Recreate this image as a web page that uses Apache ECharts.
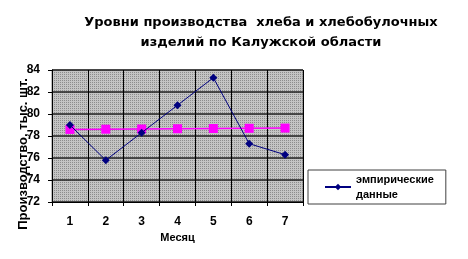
<!DOCTYPE html>
<html>
<head>
<meta charset="utf-8">
<script src="https://cdn.jsdelivr.net/npm/echarts@6/dist/echarts.min.js"></script>
<style>
  html, body { margin: 0; padding: 0; background: #fff; }
  #chart { width: 468px; height: 259px; }
</style>
</head>
<body>
<div id="chart"></div>
<script>
const months = ['1', '2', '3', '4', '5', '6', '7'];
const empirical = [79.0, 75.8, 78.3, 80.8, 83.3, 77.3, 76.3];
const trend = [78.6, 78.62, 78.64, 78.66, 78.68, 78.7, 78.72];

// dotted gray fill like the old excel plot area
function dotPattern() {
  const c = document.createElement('canvas');
  c.width = 2; c.height = 2;
  const ctx = c.getContext('2d');
  ctx.fillStyle = '#c4c4c4';
  ctx.fillRect(0, 0, 2, 2);
  ctx.fillStyle = '#8c8c8c';
  ctx.fillRect(0, 0, 1, 1);
  return c;
}

const chart = echarts.init(document.getElementById('chart'));
const bold = { fontFamily: 'Arial', fontWeight: 'bold', color: '#000' };

chart.setOption({
  animation: false,
  title: {
    text: 'Уровни производства  хлеба и хлебобулочных\nизделий по Калужской области',
    left: 256,
    top: 8,
    textAlign: 'center',
    textStyle: { fontFamily: 'DejaVu Sans', fontWeight: 'bold', color: '#000', fontSize: 13, lineHeight: 20 }
  },
  grid: {
    left: 52, top: 70, width: 251, height: 132,
    outerBoundsMode: 'none',
    containLabel: false,
    show: true,
    backgroundColor: { image: dotPattern(), repeat: 'repeat' },
    borderColor: '#808080', borderWidth: 1
  },
  legend: {
    data: ['эмпирические\nданные'],
    left: 308, top: 170,
    padding: [2, 12, 2, 16],
    itemWidth: 26, itemHeight: 8,
    itemGap: 4,
    backgroundColor: '#fff',
    borderColor: '#404040', borderWidth: 1,
    textStyle: { ...bold, fontSize: 11, lineHeight: 15 }
  },
  xAxis: {
    type: 'category',
    data: months,
    boundaryGap: true,
    name: 'Месяц',
    nameLocation: 'middle',
    nameGap: 30,
    nameMoveOverlap: false,
    nameTextStyle: { ...bold, fontSize: 11 },
    axisLine: { lineStyle: { color: '#000' } },
    axisTick: { show: true, length: 4, lineStyle: { color: '#000' } },
    axisLabel: { ...bold, fontSize: 12, margin: 14 },
    splitLine: { show: true, lineStyle: { color: '#000', width: 1 } }
  },
  yAxis: {
    type: 'value',
    min: 72, max: 84, interval: 2,
    name: 'Производство, тыс. шт.',
    nameLocation: 'middle',
    nameGap: 22,
    nameMoveOverlap: false,
    nameTextStyle: { ...bold, fontSize: 13, padding: [0, 36, 0, 0] },
    axisLine: { show: true, lineStyle: { color: '#000' } },
    axisTick: { show: true, length: 4, lineStyle: { color: '#000' } },
    axisLabel: { ...bold, fontSize: 12, margin: 12 },
    splitLine: { show: true, lineStyle: { color: '#202020', width: 1.5 } }
  },
  series: [
    {
      name: 'эмпирические\nданные',
      type: 'line',
      data: empirical,
      symbol: 'diamond',
      symbolSize: 8,
      lineStyle: { color: '#000080', width: 1 },
      itemStyle: { color: '#000080' },
      z: 3
    },
    {
      name: 'trend',
      type: 'line',
      data: trend,
      symbol: 'rect',
      symbolSize: 9,
      lineStyle: { color: '#ff00ff', width: 1.5 },
      itemStyle: { color: '#ff00ff' },
      z: 2
    }
  ]
});
</script>
</body>
</html>
